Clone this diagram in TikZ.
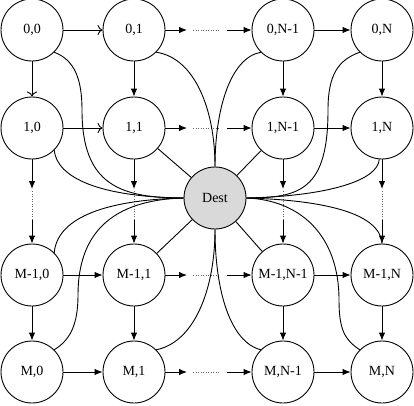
\documentclass[tikz,border=0pt]{standalone}
\usepackage{fontspec}
\setmainfont{Liberation Serif}
\usetikzlibrary{arrows.meta}
\definecolor{destgray}{RGB}{217,217,217}
\begin{document}
\begin{tikzpicture}[x=1pt,y=-1pt,
  st/.style={circle,draw,line width=0.9pt,minimum size=62pt,inner sep=0pt,font=\fontsize{14}{16}\selectfont},
  dst/.style={st,fill=destgray},
  conn/.style={line width=0.9pt},
  arr/.style={conn,-{Latex[length=8pt,width=6.5pt]}},
  oarr/.style={conn,-{To[length=5pt,width=10pt]}},
  dots/.style={line width=0.7pt,dash pattern=on 1pt off 1.5pt,black!60},
]
\useasboundingbox (0,0) rectangle (414,405);
% nodes
\node[st] (n00) at (32,30) {0,0};
\node[st] (n01) at (134,30) {0,1};
\node[st] (n0a) at (283,30) {0,N-1};
\node[st] (n0N) at (382,30) {0,N};
\node[st] (n10) at (32,128) {1,0};
\node[st] (n11) at (134,128) {1,1};
\node[st] (n1a) at (283,128) {1,N-1};
\node[st] (n1N) at (382,128) {1,N};
\node[st] (nL0) at (32,275) {M-1,0};
\node[st] (nL1) at (134,275) {M-1,1};
\node[st] (nLa) at (283,275) {M-1,N-1};
\node[st] (nLN) at (382,275) {M-1,N};
\node[st] (nM0) at (32,372) {M,0};
\node[st] (nM1) at (134,372) {M,1};
\node[st] (nMa) at (283,372) {M,N-1};
\node[st] (nMN) at (382,372) {M,N};
\node[dst] (d) at (215,198) {Dest};
% helper coordinates for the dotted gaps
\foreach \r/\y in {0/30,1/128,L/275,M/372}{
  \coordinate (h\r a) at (187,\y);
  \coordinate (h\r b) at (193,\y);
  \coordinate (h\r c) at (220,\y);
  \coordinate (h\r d) at (227,\y);
}
\foreach \c/\x in {0/32,1/134,a/283,N/382}{
  \coordinate (v\c a) at (\x,189);
  \coordinate (v\c b) at (\x,191);
  \coordinate (v\c c) at (\x,220);
}
% horizontal arrows
\draw[oarr] (n00) -- (n01);
\draw[oarr] (n10) -- (n11);
\draw[arr] (nL0) -- (nL1);
\draw[arr] (nM0) -- (nM1);
\foreach \r in {0,1,L,M}{
  \draw[arr] (n\r 1) -- (h\r a);
  \draw[dots] (h\r b) -- (h\r c);
  \draw[arr] (h\r d) -- (n\r a);
  \draw[arr] (n\r a) -- (n\r N);
}
% vertical arrows
\draw[oarr] (n00) -- (n10);
\draw[arr] (n01) -- (n11);
\draw[arr] (n0a) -- (n1a);
\draw[arr] (n0N) -- (n1N);
\foreach \c in {0,1,a,N}{
  \draw[arr] (n1\c) -- (v\c a);
  \draw[dots] (v\c b) -- (v\c c);
  \draw[arr] (v\c c) -- (nL\c);
  \draw[arr] (nL\c) -- (nM\c);
}
% straight links to Dest
\draw[conn] (n11) -- (d);
\draw[conn] (n1a) -- (d);
\draw[conn] (nL1) -- (d);
\draw[conn] (nLa) -- (d);
% curved links, left side
\draw[conn] (n00.-45) .. controls (75,60) and (82,80) .. (82,110) .. controls (82,185) and (120,198) .. (d.west);
\draw[conn] (n10.-45) .. controls (57,178) and (100,197) .. (d.west);
\draw[conn] (nL0.45) .. controls (57,220) and (100,200) .. (d.west);
\draw[conn] (nM0.45) .. controls (70,340) and (78,325) .. (78,295) .. controls (78,235) and (110,200) .. (d.west);
% top and bottom
\draw[conn] (n01.-45) .. controls (195,58) and (215,110) .. (d.north);
\draw[conn] (n0a.-135) .. controls (230,58) and (215,110) .. (d.north);
\draw[conn] (nM1.45) .. controls (195,342) and (215,288) .. (d.south);
\draw[conn] (nMa.135) .. controls (230,342) and (215,290) .. (d.south);
% right side
\draw[conn] (n0N.-135) .. controls (338,60) and (328,75) .. (328,110) .. controls (328,190) and (300,198) .. (d.east);
\draw[conn] (n1N.-95) .. controls (378,180) and (330,196) .. (d.east);
\draw[conn] (d.east) .. controls (320,200) and (380,212) .. (nLN.north);
\draw[conn] (nMN.135) .. controls (345,340) and (339,330) .. (339,300) .. controls (339,235) and (300,200) .. (d.east);
\end{tikzpicture}
\end{document}
